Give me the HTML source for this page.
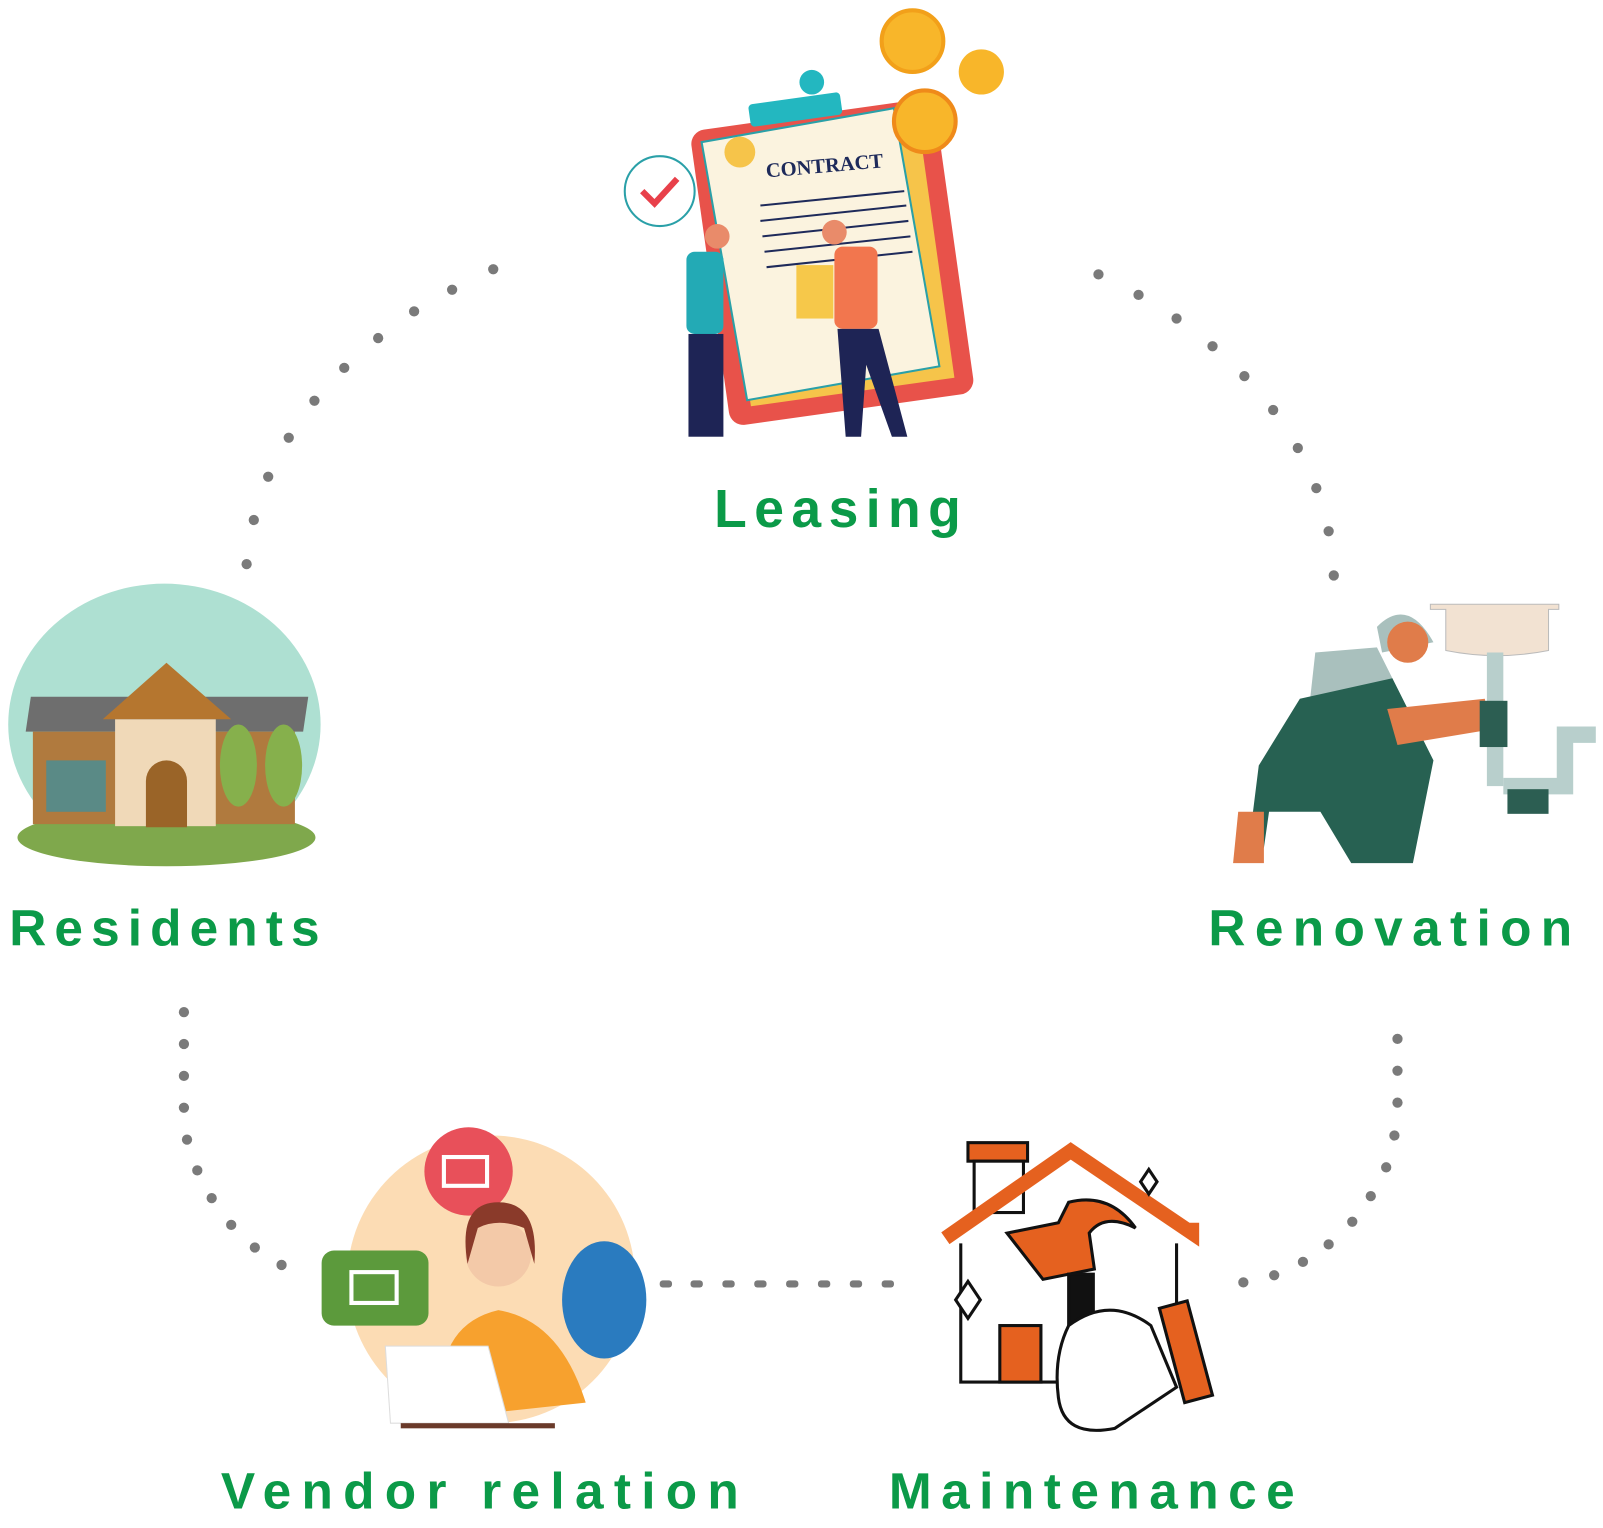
<!DOCTYPE html>
<html><head><meta charset="utf-8"><style>
html,body{margin:0;padding:0;background:#fff;width:1603px;height:1528px;overflow:hidden}
svg{display:block}
text{font-family:"Liberation Sans",sans-serif;font-weight:bold;fill:#0b9a48}
</style></head><body>
<svg width="1603" height="1528" viewBox="0 0 1560 1487" preserveAspectRatio="none">
<g fill="#7a7a7a">
<circle cx="480" cy="262" r="5"/><circle cx="440" cy="282" r="5"/><circle cx="403" cy="303" r="5"/><circle cx="368" cy="329" r="5"/><circle cx="335" cy="358" r="5"/><circle cx="306" cy="390" r="5"/><circle cx="281" cy="426" r="5"/><circle cx="261" cy="464" r="5"/><circle cx="247" cy="506" r="5"/><circle cx="240" cy="549" r="5"/>
<circle cx="1069" cy="267" r="5"/><circle cx="1108" cy="287" r="5"/><circle cx="1145" cy="310" r="5"/><circle cx="1180" cy="337" r="5"/><circle cx="1211" cy="366" r="5"/><circle cx="1239" cy="399" r="5"/><circle cx="1263" cy="436" r="5"/><circle cx="1281" cy="475" r="5"/><circle cx="1293" cy="517" r="5"/><circle cx="1298" cy="560" r="5"/>
<circle cx="179" cy="985" r="5"/><circle cx="179" cy="1016" r="5"/><circle cx="179" cy="1047" r="5"/><circle cx="179" cy="1078" r="5"/><circle cx="182" cy="1109" r="5"/><circle cx="192" cy="1139" r="5"/><circle cx="206" cy="1166" r="5"/><circle cx="225" cy="1192" r="5"/><circle cx="248" cy="1214" r="5"/><circle cx="274" cy="1231" r="5"/>
<circle cx="1360" cy="1011" r="5"/><circle cx="1360" cy="1042" r="5"/><circle cx="1360" cy="1073" r="5"/><circle cx="1357" cy="1105" r="5"/><circle cx="1349" cy="1136" r="5"/><circle cx="1334" cy="1164" r="5"/><circle cx="1316" cy="1189" r="5"/><circle cx="1293" cy="1211" r="5"/><circle cx="1268" cy="1228" r="5"/><circle cx="1240" cy="1241" r="5"/><circle cx="1210" cy="1248" r="5"/>
<rect x="642" y="1246" width="12" height="7" rx="3"/><rect x="672" y="1246" width="12" height="7" rx="3"/><rect x="703" y="1246" width="12" height="7" rx="3"/><rect x="734" y="1246" width="12" height="7" rx="3"/><rect x="765" y="1246" width="12" height="7" rx="3"/><rect x="796" y="1246" width="12" height="7" rx="3"/><rect x="827" y="1246" width="12" height="7" rx="3"/><rect x="858" y="1246" width="12" height="7" rx="3"/>
</g>
<g>
<rect x="690" y="110" width="240" height="290" rx="14" fill="#e8524a" transform="rotate(-8 810 255)"/>
<rect x="712" y="125" width="200" height="258" fill="#f6c44a" transform="rotate(-8 810 255)"/>
<rect x="705" y="118" width="190" height="255" fill="#fbf3df" stroke="#2aa0a8" stroke-width="2" transform="rotate(-10 810 255)"/>
<rect x="750" y="92" width="90" height="22" rx="4" fill="#23b7c0" transform="rotate(-8 810 255)"/>
<circle cx="790" cy="80" r="12" fill="#23b7c0"/>
<text x="745" y="168" font-size="20" style="fill:#1e2a5a;font-family:'Liberation Serif',serif" transform="rotate(-5 800 160)">CONTRACT</text>
<g stroke="#1e2a5a" stroke-width="2"><line x1="740" y1="200" x2="880" y2="186"/><line x1="740" y1="215" x2="882" y2="200"/><line x1="742" y1="230" x2="884" y2="215"/><line x1="744" y1="245" x2="886" y2="230"/><line x1="746" y1="260" x2="888" y2="245"/></g>
<circle cx="720" cy="148" r="15" fill="#f6c44a"/>
<circle cx="888" cy="40" r="30" fill="#f8b62a" stroke="#f2a01a" stroke-width="4"/><circle cx="955" cy="70" r="22" fill="#f8b62a"/><circle cx="900" cy="118" r="30" fill="#f8b62a" stroke="#ef8a1a" stroke-width="4"/>
<circle cx="642" cy="186" r="34" fill="#fff" stroke="#2aa0a8" stroke-width="2"/>
<path d="M625 186 l12 12 l22 -24" stroke="#e8404a" stroke-width="6" fill="none"/>
<rect x="668" y="245" width="36" height="80" rx="8" fill="#23aab5"/><rect x="670" y="325" width="34" height="100" fill="#1e2455"/>
<circle cx="698" cy="230" r="12" fill="#e98b6a"/>
<rect x="812" y="240" width="42" height="80" rx="8" fill="#f2764e"/><path d="M815 320 l40 0 l28 105 l-15 0 l-25 -70 l-5 70 l-15 0z" fill="#1e2455"/>
<circle cx="812" cy="226" r="12" fill="#e98b6a"/>
<rect x="775" y="258" width="36" height="52" fill="#f6c84a"/>
</g>
<g>
<ellipse cx="160" cy="705" rx="152" ry="137" fill="#aee0d2"/>
<ellipse cx="162" cy="815" rx="145" ry="28" fill="#7fa84c"/>
<path d="M30 678 L300 678 L295 712 L25 712z" fill="#6e6e6e"/>
<rect x="32" y="712" width="255" height="90" fill="#b07a3e"/>
<path d="M100 700 L162 645 L225 700z" fill="#b5762f"/>
<rect x="112" y="700" width="98" height="104" fill="#f0d9b8"/>
<path d="M142 805 v-45 a20 20 0 0 1 40 0 v45z" fill="#9a6428"/>
<rect x="45" y="740" width="58" height="50" fill="#5a8a86"/>
<ellipse cx="232" cy="745" rx="18" ry="40" fill="#86b04c"/><ellipse cx="276" cy="745" rx="18" ry="40" fill="#86b04c"/>
</g>
<g>
<path d="M1392 588 h125 v5 h-10 v40 q-50 10 -100 0 v-40 h-15z" fill="#f2e2d2" stroke="#bbb"/>
<rect x="1447" y="635" width="16" height="130" fill="#b8cfcc"/>
<path d="M1463 765 h60 v-50 h30" stroke="#b8cfcc" stroke-width="16" fill="none"/>
<rect x="1467" y="768" width="40" height="24" fill="#2c5e52"/>
<path d="M1340 610 q30 -30 55 15 l-50 10z" fill="#a9c0bd"/>
<circle cx="1370" cy="625" r="20" fill="#e07c4a"/>
<path d="M1280 635 l60 -5 l30 60 l-100 35z" fill="#a9c0bd"/>
<path d="M1265 680 l90 -20 l40 80 l-20 100 l-60 0 l-30 -50 l-50 0 l-5 35 l-15 0 l10 -80z" fill="#276152"/>
<path d="M1350 690 l95 -10 l5 30 l-90 15z" fill="#e07c4a"/>
<path d="M1205 790 l25 0 l0 50 l-30 0z" fill="#e07c4a"/>
<rect x="1440" y="682" width="27" height="45" fill="#2c5e52"/>
</g>
<g>
<circle cx="478" cy="1245" r="140" fill="#fcdcb4"/>
<circle cx="456" cy="1140" r="43" fill="#e8505a"/>
<rect x="432" y="1126" width="42" height="28" fill="none" stroke="#fff" stroke-width="4"/>
<rect x="313" y="1217" width="104" height="73" rx="12" fill="#5c9a3c"/>
<rect x="342" y="1238" width="44" height="30" fill="none" stroke="#fff" stroke-width="4"/>
<ellipse cx="588" cy="1265" rx="41" ry="57" fill="#2a7bbf"/>
<path d="M430 1380 q-10 -90 55 -105 q60 10 85 90 z" fill="#f7a12e"/>
<circle cx="485" cy="1220" r="32" fill="#f3c9a8"/>
<path d="M455 1230 q-10 -60 30 -60 q40 0 35 60 l-10 -35 q-25 -10 -45 0z" fill="#8a3a2a"/>
<path d="M375 1310 l100 0 l20 75 l-115 0z" fill="#fff" stroke="#ddd"/>
<rect x="390" y="1385" width="150" height="5" fill="#6a3a2a"/>
</g>
<g stroke="#111" stroke-width="3">
<rect x="942" y="1112" width="58" height="18" fill="#e5611f"/>
<rect x="948" y="1130" width="48" height="50" fill="#fff"/>
<path d="M920 1205 L1042 1120 L1160 1200 L1160 1190" fill="none" stroke="#e5611f" stroke-width="14"/>
<path d="M935 1210 v135 h110 M1145 1210 v75" fill="none"/>
<rect x="973" y="1290" width="40" height="55" fill="#e5611f"/>
<path d="M980 1200 l50 -10 l10 -20 q40 -10 65 25 q-30 -15 -45 5 l5 35 l-50 10z" fill="#e5611f"/>
<rect x="1040" y="1240" width="24" height="110" fill="#111"/>
<path d="M1040 1290 q40 -30 80 0 l25 60 l-60 40 q-50 10 -55 -30 q-5 -40 10 -70z" fill="#fff"/>
<rect x="1140" y="1268" width="28" height="95" fill="#e5611f" transform="rotate(-15 1154 1315)"/>
<path d="M1110 1150 l8 -12 l8 12 l-8 12z M930 1265 l12 -18 l12 18 l-12 18z" fill="#fff"/>
</g>
<text x="695" y="513" font-size="52" textLength="240" lengthAdjust="spacing">Leasing</text>
<text x="9" y="920" font-size="50" textLength="302" lengthAdjust="spacing">Residents</text>
<text x="1176" y="920" font-size="50" textLength="354" lengthAdjust="spacing">Renovation</text>
<text x="215" y="1468" font-size="50" textLength="504" lengthAdjust="spacing">Vendor relation</text>
<text x="865" y="1468" font-size="50" textLength="395" lengthAdjust="spacing">Maintenance</text>
</svg>
</body></html>
